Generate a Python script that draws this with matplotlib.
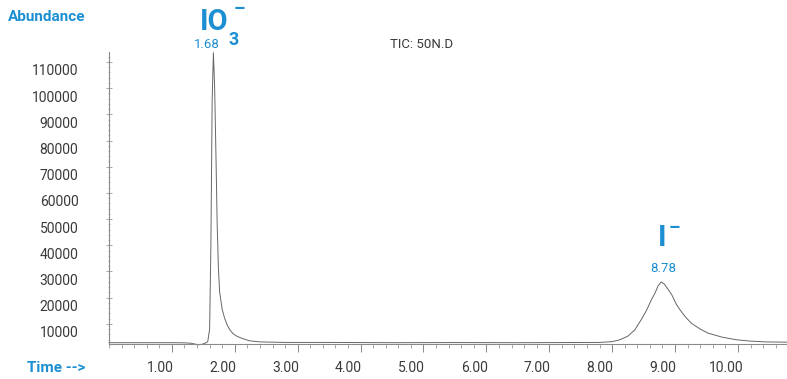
import matplotlib
matplotlib.use('Agg')
import matplotlib.pyplot as plt
from matplotlib.transforms import ScaledTranslation
from matplotlib.ticker import MultipleLocator

plt.rcParams['font.family'] = ['Liberation Sans Narrow', 'Roboto', 'DejaVu Sans']

# Chromatogram trace (time in min, abundance)
time = [0.00, 0.50, 1.00, 1.20, 1.30, 1.38, 1.43, 1.48, 1.53, 1.57,
        1.60, 1.62, 1.64, 1.66, 1.68, 1.70, 1.72, 1.74, 1.76, 1.80,
        1.84, 1.88, 1.92, 1.97, 2.03, 2.13, 2.24, 2.40, 2.80, 3.50,
        4.50, 5.50, 6.50, 7.20, 7.80, 8.00, 8.12, 8.25, 8.36, 8.46,
        8.55, 8.62, 8.68, 8.73, 8.78, 8.83, 8.90, 8.95, 9.02, 9.08,
        9.17, 9.26, 9.40, 9.53, 9.75, 9.98, 10.20, 10.45, 10.78]
abundance = [2800, 2800, 2800, 2750, 2600, 2200, 2000, 2200, 2600, 3200,
             8000, 40000, 95000, 113500, 100000, 75000, 48000, 31000, 22000, 15500,
             12000, 9500, 7800, 6300, 5300, 4300, 3500, 3100, 2900, 2900,
             2800, 2850, 2800, 2850, 2900, 3200, 3900, 5300, 7700, 11500,
             15300, 19000, 21700, 24500, 26000, 25200, 22800, 21000, 17500, 15300,
             12500, 10200, 8000, 6400, 4900, 3900, 3400, 3100, 3000]

y_ticks = [10000, 20000, 30000, 40000, 50000, 60000, 70000, 80000, 90000, 100000, 110000]
x_ticks = [1, 2, 3, 4, 5, 6, 7, 8, 9, 10]

blue = '#1b8fd2'
grey = '#3a3a3a'

fig = plt.figure(figsize=(7.87, 3.79), dpi=100)
ax = fig.add_axes([109 / 787, 1 - 344 / 379, 1 - 109 / 787, (344 - 52) / 379])

ax.plot(time, abundance, color='#666666', lw=0.7, clip_on=False)

ax.set_xlim(0, 10.78)
ax.set_ylim(2300, 113800)
for s in ['top', 'right']:
    ax.spines[s].set_visible(False)
for s in ['left', 'bottom']:
    ax.spines[s].set_color('#8a8a8a')
    ax.spines[s].set_linewidth(0.8)

ax.set_xticks(x_ticks)
ax.set_xticklabels(['%.2f' % v for v in x_ticks])
ax.xaxis.set_minor_locator(MultipleLocator(0.2))
ax.set_yticks(y_ticks)
ax.set_yticklabels([str(v) for v in y_ticks])
ax.yaxis.set_minor_locator(MultipleLocator(2000))

ax.tick_params(axis='x', which='major', length=6, width=0.7, color='#888888',
               labelsize=10, labelcolor=grey, pad=6)
ax.tick_params(axis='x', which='minor', length=3, width=0.6, color='#999999')
ax.tick_params(axis='y', which='major', length=4, width=0.6, direction='inout',
               color='#999999', labelsize=10, labelcolor=grey, pad=20)
ax.tick_params(axis='y', which='minor', length=2, width=0.5, direction='inout',
               color='#aaaaaa')

# the reference prints its labels slightly off the tick marks
for lab in ax.get_xticklabels():
    lab.set_transform(lab.get_transform() + ScaledTranslation(-0.12, 0, fig.dpi_scale_trans))
for lab in ax.get_yticklabels():
    lab.set_transform(lab.get_transform() + ScaledTranslation(0, -0.08, fig.dpi_scale_trans))

fig.text(8 / 787, 1 - 17 / 379, 'Abundance', color=blue, fontsize=11,
         fontweight='bold', ha='left', va='center')
fig.text(27 / 787, 1 - 368 / 379, 'Time -->', color=blue, fontsize=11,
         fontweight='bold', ha='left', va='center')
fig.text(422 / 787, 1 - 45 / 379, 'TIC: 50N.D', color=grey, fontsize=9.5,
         ha='center', va='center')

# peak annotations
fig.text(214 / 787, 1 - 22 / 379, 'IO', color=blue, fontsize=21,
         fontweight='bold', ha='center', va='center')
fig.text(234 / 787, 1 - 40 / 379, '3', color=blue, fontsize=13,
         fontweight='bold', ha='center', va='center')
fig.text(239 / 787, 1 - 9 / 379, '–', color=blue, fontsize=13,
         fontweight='bold', ha='center', va='center')
fig.text(207 / 787, 1 - 45 / 379, '1.68', color=blue, fontsize=9.5,
         ha='center', va='center')

fig.text(662 / 787, 1 - 238 / 379, 'I', color=blue, fontsize=21,
         fontweight='bold', ha='center', va='center')
fig.text(674 / 787, 1 - 228 / 379, '–', color=blue, fontsize=13,
         fontweight='bold', ha='center', va='center')
fig.text(663 / 787, 1 - 269 / 379, '8.78', color=blue, fontsize=9.5,
         ha='center', va='center')

fig.savefig('out.png', dpi=100)
